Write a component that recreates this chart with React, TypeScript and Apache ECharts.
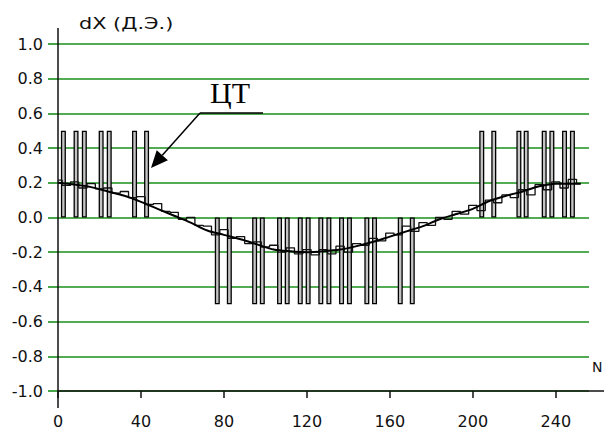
import React, { useEffect, useRef } from "react";
import * as echarts from "echarts";

// ---- data ----
const X_MAX = 256;
const BAR_HEIGHT = 0.5;
const posBarX = [2.6, 8.7, 12.7, 20.8, 24.7, 36.9, 42.7, 204.3, 210.1, 222.2, 225.7, 234.4, 238.1, 244.2, 248.0];
const negBarX = [76.8, 82.6, 94.8, 98.5, 106.8, 110.5, 116.8, 120.6, 126.7, 130.6, 136.7, 140.5, 148.9, 152.6, 165.0, 170.8];

const curveX = [0, 8, 16, 24, 32, 40, 48, 56, 64, 72, 80, 88, 96, 104, 112, 120, 128, 136, 144, 152, 160, 168, 176, 184, 192, 200, 208, 216, 224, 232, 240, 248, 252];
const curveY = [0.2, 0.19, 0.175, 0.15, 0.125, 0.09, 0.05, 0.01, -0.03, -0.075, -0.1, -0.125, -0.155, -0.185, -0.195, -0.2, -0.195, -0.185, -0.165, -0.14, -0.11, -0.08, -0.05, -0.01, 0.02, 0.05, 0.095, 0.125, 0.15, 0.18, 0.195, 0.195, 0.195];

const stepX = [0, 4, 8, 12, 16, 20, 24, 28, 32, 36, 40, 44, 48, 52, 56, 60, 64, 68, 72, 76, 80, 84, 88, 92, 96, 100, 104, 108, 112, 116, 120, 124, 128, 132, 136, 140, 144, 148, 152, 156, 160, 164, 168, 172, 176, 180, 184, 188, 192, 196, 200, 204, 208, 212, 216, 220, 224, 228, 232, 236, 240, 244, 248, 252];
const stepY = [0.215, 0.185, 0.205, 0.17, 0.195, 0.165, 0.17, 0.14, 0.15, 0.115, 0.12, 0.075, 0.08, 0.035, 0.03, -0.01, 0.0, -0.045, -0.05, -0.1, -0.07, -0.12, -0.11, -0.15, -0.14, -0.17, -0.16, -0.2, -0.175, -0.21, -0.185, -0.215, -0.185, -0.21, -0.165, -0.2, -0.15, -0.16, -0.12, -0.135, -0.09, -0.1, -0.05, -0.08, -0.03, -0.045, 0.0, -0.01, 0.035, 0.02, 0.07, 0.04, 0.1, 0.085, 0.13, 0.115, 0.16, 0.13, 0.19, 0.16, 0.205, 0.17, 0.22, 0.195];

const Y_MIN = -1;
const Y_MAX = 1;
const Y_INTERVAL = 0.2;
const X_TICK_INTERVAL = 40;
const X_AXIS_EXT_MAX = 280;

const TITLE = "dX (Д.Э.)";
const CALLOUT = "ЦТ";
const X_NAME = "N";

const GREEN = "#1a8f1a";
const SANS = "'DejaVu Sans', Verdana, sans-serif";

export default function App() {
  const ref = useRef<HTMLDivElement>(null);

  useEffect(() => {
    if (!ref.current) return;
    const chart = echarts.init(ref.current, null, { renderer: "svg" });

    const gridLeft = 58;
    const gridTop = 44;
    const gridH = 347;
    const gridW = 531;
    const pxPerUnit = gridW / X_MAX;

    const barData = [
      ...posBarX.map((x) => [x, BAR_HEIGHT]),
      ...negBarX.map((x) => [x, -BAR_HEIGHT]),
    ];

    // arrow geometry (annotation)
    const ax0 = 200, ay0 = 113, tipX = 151, tipY = 168;
    const dx = tipX - ax0, dy = tipY - ay0;
    const len = Math.sqrt(dx * dx + dy * dy);
    const ux = dx / len, uy = dy / len;
    const headL = 17, headW = 7.5;
    const bx = tipX - headL * ux, by = tipY - headL * uy;
    const nx = -uy, ny = ux;

    chart.setOption({
      animation: false,
      backgroundColor: "#ffffff",
      grid: [
        { left: gridLeft, top: gridTop, width: gridW, height: gridH, outerBoundsMode: "none", containLabel: false },
        {
          left: gridLeft,
          top: gridTop,
          width: X_AXIS_EXT_MAX * pxPerUnit,
          height: gridH,
          outerBoundsMode: "none",
          containLabel: false,
        },
      ],
      xAxis: [
        {
          type: "value",
          gridIndex: 0,
          min: 0,
          max: X_MAX,
          show: false,
          axisLine: { onZero: false },
        },
        {
          type: "value",
          gridIndex: 1,
          min: 0,
          max: X_AXIS_EXT_MAX,
          interval: X_TICK_INTERVAL,
          axisLine: { show: true, onZero: false, lineStyle: { color: "#111", width: 1.5 } },
          axisTick: { show: true, length: 7, lineStyle: { color: "#111", width: 1.5 } },
          axisLabel: {
            color: "#111",
            fontSize: 16,
            fontFamily: SANS,
            margin: 22,
            showMaxLabel: false,
            formatter: (v: number) => (v > X_MAX ? "" : String(v)),
          },
          splitLine: { show: false },
        },
      ],
      yAxis: [
        {
          type: "value",
          gridIndex: 0,
          min: Y_MIN,
          max: Y_MAX,
          interval: Y_INTERVAL,
          axisLine: { show: false, onZero: false },
          axisTick: { show: true, length: 10, lineStyle: { color: GREEN, width: 1.6 } },
          axisLabel: {
            color: "#111",
            fontSize: 16,
            fontFamily: SANS,
            margin: 15,
            formatter: (v: number) => v.toFixed(1),
          },
          splitLine: { show: true, lineStyle: { color: GREEN, width: 1.6 } },
        },
        {
          type: "value",
          gridIndex: 1,
          min: Y_MIN,
          max: Y_MAX,
          show: false,
          axisLine: { onZero: false },
          splitLine: { show: false },
        },
      ],
      series: [
        {
          type: "bar",
          xAxisIndex: 0,
          yAxisIndex: 0,
          data: barData,
          barWidth: 5,
          itemStyle: { color: "#c4c4c4", borderColor: "#000", borderWidth: 1.3 },
          z: 2,
        },
        {
          type: "line",
          xAxisIndex: 0,
          yAxisIndex: 0,
          data: curveX.map((x, i) => [x, curveY[i]]),
          smooth: 0.3,
          symbol: "none",
          lineStyle: { color: "#000", width: 2 },
          z: 4,
        },
        {
          type: "line",
          xAxisIndex: 0,
          yAxisIndex: 0,
          data: stepX.map((x, i) => [x, stepY[i]]),
          step: "middle",
          symbol: "none",
          lineStyle: { color: "#111", width: 1.3 },
          z: 3,
        },
      ],
      graphic: [
        {
          type: "line",
          z: 10,
          shape: { x1: gridLeft, y1: 28, x2: gridLeft, y2: 408 },
          style: { stroke: "#111", lineWidth: 1.5 },
        },
        {
          type: "text",
          z: 10,
          x: 79,
          y: 15,
          scaleX: 1.3,
          style: { text: TITLE, fontSize: 16, fontFamily: SANS, fill: "#111", verticalAlign: "top" },
        },
        {
          type: "text",
          z: 10,
          x: 592,
          y: 360,
          style: { text: X_NAME, fontSize: 14, fontFamily: SANS, fill: "#111", verticalAlign: "top" },
        },
        {
          type: "text",
          z: 10,
          x: 210,
          y: 92,
          style: {
            text: CALLOUT,
            fontSize: 30,
            fontFamily: "'Liberation Serif', 'Times New Roman', serif",
            fill: "#000",
            verticalAlign: "middle",
          },
        },
        {
          type: "line",
          z: 10,
          shape: { x1: ax0, y1: ay0, x2: 263, y2: ay0 },
          style: { stroke: "#000", lineWidth: 1.5 },
        },
        {
          type: "line",
          z: 10,
          shape: { x1: ax0, y1: ay0, x2: bx, y2: by },
          style: { stroke: "#000", lineWidth: 1.5 },
        },
        {
          type: "polygon",
          z: 10,
          shape: {
            points: [
              [tipX, tipY],
              [bx + headW * nx, by + headW * ny],
              [bx - headW * nx, by - headW * ny],
            ],
          },
          style: { fill: "#000" },
        },
      ],
    });

    return () => chart.dispose();
  }, []);

  return (
    <div
      ref={ref}
      style={{ position: "fixed", left: 0, top: 0, width: 604, height: 434, background: "#fff" }}
    />
  );
}
